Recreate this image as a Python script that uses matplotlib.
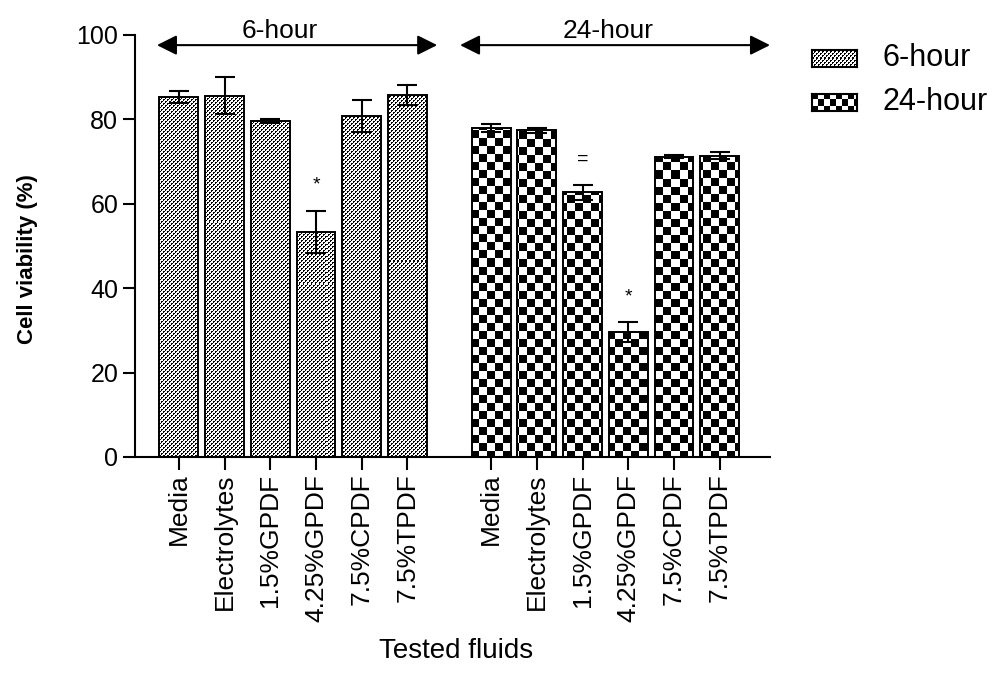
import numpy as np
import matplotlib
matplotlib.use('Agg')
import matplotlib.pyplot as plt

plt.rcParams['font.family'] = ['Liberation Sans', 'DejaVu Sans']

# viability data (mean and SD) for each fluid at both time points
groups = ['6-hour', '24-hour']
fluids = ['Media', 'Electrolytes', '1.5%GPDF', '4.25%GPDF', '7.5%CPDF', '7.5%TPDF']
viab_6h = [85.3, 85.6, 79.6, 53.4, 80.8, 85.8]
sd_6h = [1.5, 4.4, 0.5, 5.0, 3.8, 2.4]
viab_24h = [78.0, 77.4, 62.7, 29.6, 71.2, 71.4]
sd_24h = [1.0, 0.6, 1.8, 2.3, 0.3, 0.8]
# significance marks: index -> symbol
sig_6h = {3: '*'}
sig_24h = {2: '=', 3: '*'}

W, H = 1002, 688
fig = plt.figure(figsize=(W / 100, H / 100), dpi=100)
axl, axb, axw, axh = 135, 231, 635, 422
ax = fig.add_axes([axl / W, axb / H, axw / W, axh / H])


def checker(h, w, cell):
    yy, xx = np.mgrid[0:h, 0:w]
    return ((xx // cell + yy // cell) % 2).astype(float)


def dots(h, w):
    # staggered fine dots, lighter than a plain 2px checker
    yy, xx = np.mgrid[0:h, 0:w]
    black = ((xx // 2 + yy // 2) % 2 == 0) & ((xx % 2 == 0) | (yy % 2 == 0))
    return (~black).astype(float)


tex = {'6-hour': dots(axh, axw), '24-hour': checker(axh, axw, 8)}

x6 = np.arange(len(fluids))
x24 = np.arange(len(fluids)) + 6.83

for name, xs, vals, sd, sig in [('6-hour', x6, viab_6h, sd_6h, sig_6h),
                                ('24-hour', x24, viab_24h, sd_24h, sig_24h)]:
    bars = ax.bar(xs, vals, width=0.85, fill=False, edgecolor='black',
                  linewidth=1.4, zorder=3)
    for b in bars:
        im = ax.imshow(tex[name], extent=(0, 1, 0, 1), transform=ax.transAxes,
                       cmap='gray', vmin=0, vmax=1, aspect='auto',
                       interpolation='nearest', zorder=2)
        im.set_clip_path(b)
    ax.errorbar(xs, vals, yerr=sd, fmt='none', ecolor='black', elinewidth=1.5,
                capsize=7, capthick=1.5, zorder=4)
    for i, s in sig.items():
        ax.text(xs[i], vals[i] + sd[i] + 6, s, ha='center', va='center',
                fontsize=14, zorder=5)

ax.set_xlim(-0.96, 12.93)
ax.set_ylim(0, 100)

# group arrows on top
arrow = dict(arrowstyle='<|-|>,head_length=0.6,head_width=0.3', color='black',
             lw=1.5, mutation_scale=20, shrinkA=0, shrinkB=0)
ax.annotate('', xy=(5.65, 97.6), xytext=(-0.48, 97.6), arrowprops=arrow,
            annotation_clip=False)
ax.annotate('', xy=(12.93, 97.6), xytext=(6.15, 97.6), arrowprops=arrow,
            annotation_clip=False)
ax.text(2.21, 101.0, groups[0], ha='center', va='center', fontsize=19, clip_on=False)
ax.text(9.39, 101.0, groups[1], ha='center', va='center', fontsize=19, clip_on=False)

ax.set_xticks(np.concatenate([x6, x24]))
ax.set_xticklabels(fluids + fluids, rotation=90, fontsize=19)
ax.set_yticks(np.arange(0, 101, 20))
ax.tick_params(axis='y', labelsize=18, length=9, width=1.5, pad=3)
ax.tick_params(axis='x', length=9, width=1.5, pad=3)
for s in ['top', 'right']:
    ax.spines[s].set_visible(False)
for s in ['left', 'bottom']:
    ax.spines[s].set_linewidth(1.5)

ax.set_ylabel('Cell viability (%)', fontsize=16, fontweight='bold')
ax.yaxis.set_label_coords(-0.153, 0.47)
ax.set_xlabel('Tested fluids', fontsize=20)
ax.xaxis.set_label_coords(0.505, -0.429)

# legend drawn by hand so the textures show
for name, top in [('6-hour', 50), ('24-hour', 94)]:
    lax = fig.add_axes([812 / W, (H - top - 17) / H, 45 / W, 17 / H])
    lt = dots(17, 45) if name == '6-hour' else checker(17, 45, 6)
    lax.imshow(lt, cmap='gray', vmin=0, vmax=1, aspect='auto',
               interpolation='nearest')
    lax.set_xticks([])
    lax.set_yticks([])
    for s in lax.spines.values():
        s.set_linewidth(1.5)
    fig.text(882 / W, 1 - (top + 8.5) / H, name, fontsize=22, va='center', ha='left')

fig.savefig('out.png', dpi=100)
